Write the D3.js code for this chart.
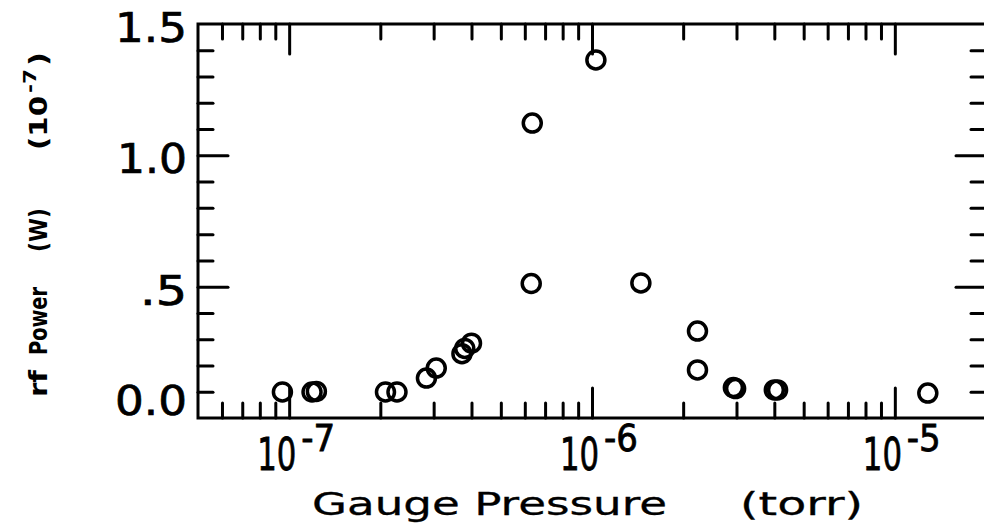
<!DOCTYPE html>
<html><head><meta charset="utf-8">
<script src="https://cdn.jsdelivr.net/npm/d3@7"></script>
<style>body{margin:0;background:#fff}svg{display:block;background:#fff}</style>
</head><body><svg id="c" width="984" height="531"></svg>
<script>
// ---- data ----
const pressure = [9.5e-8, 1.19e-7, 1.23e-7, 2.08e-7, 2.27e-7, 2.84e-7, 3.06e-7, 3.72e-7, 3.8e-7, 4.0e-7,
                  6.35e-7, 6.3e-7, 1.03e-6, 1.45e-6, 2.23e-6, 2.23e-6, 2.93e-6, 2.98e-6, 4.0e-6, 4.1e-6, 1.285e-5];
const power    = [0.099, 0.099, 0.101, 0.099, 0.099, 0.152, 0.190, 0.245, 0.265, 0.285,
                  1.123, 0.512, 1.363, 0.514, 0.331, 0.183, 0.116, 0.112, 0.107, 0.107, 0.095];
const xDomain = [5e-8, 2e-5];
const yDomain = [0, 1.5];
const xMajorTicks = [1e-7, 1e-6, 1e-5];
const xTickBase = ["10", "10", "10"];
const xTickExp = ["-7", "-6", "-5"];
const yMajorTicks = [0, 0.5, 1.0, 1.5];
const yTickLabels = ["0.0", ".5", "1.0", "1.5"];
const xTitleParts = ["Gauge Pressure", "(torr)"];
const yTitleParts = ["rf", "Power", "(W)", "(10", "-7", ")"];

// ---- layout ----
const svg = d3.select("#c");
const x = d3.scaleLog().domain(xDomain).range([198, 986]);
const y = d3.scaleLinear().domain(yDomain).range([418, 24]);
const FONT = "'DejaVu Sans', sans-serif";

const minorX = x.ticks().filter(t => !xMajorTicks.some(m => Math.abs(m - t) / m < 1e-6) && t > xDomain[0]);
const minorY = y.ticks(15).filter(t => !yMajorTicks.some(m => Math.abs(m - t) < 1e-6));
const majorYInner = [0.5, 1.0];

function styleAxis(g) {
  g.select(".domain").remove();
  g.selectAll(".tick line").attr("stroke", "#000").attr("stroke-width", 3).attr("stroke-linecap", "round");
  g.selectAll(".tick text").remove();
}

// bottom axis (ticks pointing up)
svg.append("g").attr("transform", `translate(0,${y(0)})`)
  .call(d3.axisBottom(x).tickValues(minorX).tickSizeInner(-15).tickSizeOuter(0).tickFormat("")).call(styleAxis);
svg.append("g").attr("transform", `translate(0,${y(0)})`)
  .call(d3.axisBottom(x).tickValues(xMajorTicks).tickSizeInner(-30).tickSizeOuter(0).tickFormat("")).call(styleAxis);
// top axis (ticks pointing down)
svg.append("g").attr("transform", `translate(0,${y(1.5)})`)
  .call(d3.axisTop(x).tickValues(minorX).tickSizeInner(-15).tickSizeOuter(0).tickFormat("")).call(styleAxis);
svg.append("g").attr("transform", `translate(0,${y(1.5)})`)
  .call(d3.axisTop(x).tickValues(xMajorTicks).tickSizeInner(-30).tickSizeOuter(0).tickFormat("")).call(styleAxis);
// left axis
svg.append("g").attr("transform", `translate(${x(xDomain[0])},0)`)
  .call(d3.axisLeft(y).tickValues(minorY).tickSizeInner(-15).tickSizeOuter(0).tickFormat("")).call(styleAxis);
svg.append("g").attr("transform", `translate(${x(xDomain[0])},0)`)
  .call(d3.axisLeft(y).tickValues(majorYInner).tickSizeInner(-30).tickSizeOuter(0).tickFormat("")).call(styleAxis);
// right axis
svg.append("g").attr("transform", `translate(${x(xDomain[1])},0)`)
  .call(d3.axisRight(y).tickValues(minorY).tickSizeInner(-15).tickSizeOuter(0).tickFormat("")).call(styleAxis);
svg.append("g").attr("transform", `translate(${x(xDomain[1])},0)`)
  .call(d3.axisRight(y).tickValues(majorYInner).tickSizeInner(-30).tickSizeOuter(0).tickFormat("")).call(styleAxis);

// frame
svg.append("rect")
  .attr("x", x(xDomain[0])).attr("y", y(yDomain[1]))
  .attr("width", x(xDomain[1]) - x(xDomain[0])).attr("height", y(yDomain[0]) - y(yDomain[1]))
  .attr("fill", "none").attr("stroke", "#000").attr("stroke-width", 3);

// x tick labels: "10" plus superscript exponent (narrowed by horizontal scaling)
const xl = svg.append("g").attr("font-family", FONT).attr("fill", "#000")
  .attr("stroke", "#000").attr("stroke-width", 0.8);
xMajorTicks.forEach((t, i) => {
  xl.append("text").attr("transform", `translate(${x(t) - 32},470) scale(0.7,1)`)
    .attr("font-size", 44).text(xTickBase[i]);
  xl.append("text").attr("transform", `translate(${x(t) + 12},451) scale(0.92,1)`)
    .attr("font-size", 37).text(xTickExp[i]);
});

// y tick labels
const yl = svg.append("g").attr("font-family", FONT).attr("fill", "#000");
const yLabelLen = {"0.0": 72, ".5": 47, "1.0": 70, "1.5": 72};
yMajorTicks.forEach((t, i) => {
  yl.append("text").attr("x", 187).attr("y", Math.min(y(t) + 18, y(0) - 3))
    .attr("text-anchor", "end").attr("font-size", 41)
    .attr("textLength", yLabelLen[yTickLabels[i]]).attr("lengthAdjust", "spacingAndGlyphs")
    .attr("stroke", "#000").attr("stroke-width", 0.7).text(yTickLabels[i]);
});

// x title
const xt = svg.append("g").attr("font-family", FONT).attr("font-size", 32).attr("fill", "#000")
  .attr("stroke", "#000").attr("stroke-width", 0.3);
xt.append("text").attr("x", 312).attr("y", 515).attr("textLength", 355)
  .attr("lengthAdjust", "spacingAndGlyphs").text(xTitleParts[0]);
xt.append("text").attr("x", 740).attr("y", 515).attr("textLength", 123)
  .attr("lengthAdjust", "spacingAndGlyphs").text(xTitleParts[1]);

// y title (rotated)
const yt = svg.append("g").attr("transform", "translate(47,0) rotate(-90)")
  .attr("font-family", FONT).attr("font-weight", "bold").attr("fill", "#000");
// [start (negative screen y), baseline offset, length, font size]
const yPos = [[-397, 0, 27, 24], [-355, 0, 68, 24], [-252, 0, 44, 24],
              [-150, 0, 54, 24], [-93, -11, 24, 17], [-66, 0, 14, 24]];
yTitleParts.forEach((s, i) => {
  const p = yPos[i];
  yt.append("text").attr("x", p[0]).attr("y", p[1]).attr("font-size", p[3])
    .attr("textLength", p[2]).attr("lengthAdjust", "spacingAndGlyphs").text(s);
});

// data points
svg.append("g").selectAll("circle").data(pressure.map((p, i) => [p, power[i]])).join("circle")
  .attr("cx", d => x(d[0])).attr("cy", d => y(d[1])).attr("r", 9)
  .attr("fill", "none").attr("stroke", "#000").attr("stroke-width", 3.5);
</script></body></html>
